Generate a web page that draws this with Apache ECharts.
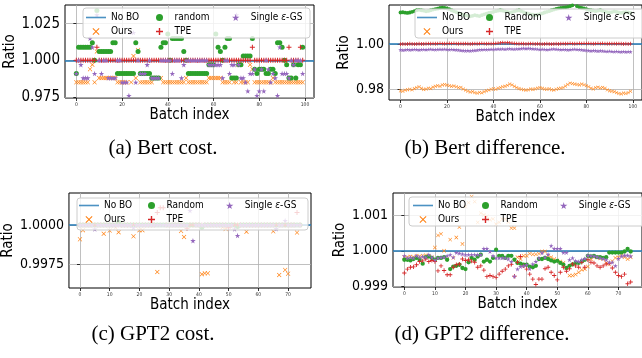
<!DOCTYPE html>
<html>
<head>
<meta charset="utf-8">
<script src="https://cdn.jsdelivr.net/npm/echarts@6/dist/echarts.min.js"></script>
<style>
  html, body { margin: 0; padding: 0; background: #fff; }
  #chart { width: 642px; height: 358px; }
</style>
</head>
<body>
<div id="chart"></div>
<script>
// ---- data ----
var noBoRatio = 1.0;

var xTicksBert = [0, 20, 40, 60, 80, 100];
var xTicksGpt = [0, 10, 20, 30, 40, 50, 60, 70];
var yTicksA = [0.975, 1.0, 1.025];
var yTicksB = [0.98, 1.0];
var yTicksC = [0.9975, 1.0];
var yTicksD = [0.999, 1.0, 1.001];

// (a) Bert cost, batches 0..99
var oursA = [
  0.985,0.985,0.985,0.985,0.985,0.985,0.994,0.997,0.985,1.006,
  0.988,0.988,0.988,0.988,0.988,0.988,0.988,0.988,0.985,0.985,
  0.985,0.985,0.985,0.991,0.985,1.003,0.988,1.007,0.985,0.985,
  0.985,0.985,0.985,0.985,0.988,0.988,0.988,0.988,0.985,0.985,
  0.985,0.985,0.985,0.985,0.985,0.985,0.985,0.985,0.988,0.985,
  0.985,0.985,0.985,0.985,0.985,0.985,0.985,0.985,0.988,0.988,
  0.988,0.988,0.988,0.988,0.985,0.985,0.985,0.985,0.988,0.985,
  0.985,0.997,0.985,0.985,0.985,0.985,0.997,0.994,0.985,0.985,
  0.985,0.985,0.985,0.985,0.985,0.985,0.988,0.985,0.985,0.985,
  0.985,0.985,0.985,0.985,0.985,0.985,0.985,0.985,0.985,0.985
];
var randomA = [
  0.991,1.009,1.009,1.009,1.009,1.009,1.009,1.012,1.000,1.034,
  1.006,1.006,1.006,1.006,1.006,1.006,1.012,1.012,0.991,0.991,
  0.991,0.991,0.991,0.991,0.991,0.991,1.012,1.006,0.991,0.991,
  0.991,0.991,0.991,0.988,0.988,0.988,0.988,1.009,1.012,1.012,
  1.018,1.000,1.015,1.015,1.015,1.015,1.015,1.006,1.000,0.991,
  0.991,0.991,0.991,0.991,0.991,0.991,0.991,0.991,0.997,0.997,
  0.997,1.018,1.009,1.006,1.000,1.009,1.015,1.015,0.988,0.988,
  0.988,0.997,0.997,1.003,1.003,1.003,1.003,1.015,0.994,0.991,
  0.994,0.994,0.994,0.991,0.991,0.994,0.994,0.991,1.012,1.012,
  1.009,1.000,0.997,0.988,0.988,0.997,0.988,0.997,0.997,1.009
];
var tpeA = [
  1.000,1.000,1.000,1.000,1.000,1.000,1.000,1.000,1.000,1.009,
  1.000,1.000,1.000,1.000,1.000,1.000,1.000,1.000,1.000,1.000,
  1.000,1.000,1.000,1.000,1.000,1.000,1.000,1.000,1.000,1.000,
  1.000,1.000,1.000,1.000,1.000,1.000,1.000,1.000,1.000,1.000,
  1.000,1.000,1.000,1.000,1.000,1.000,1.000,1.000,1.000,1.000,
  1.000,1.000,1.000,1.000,1.000,1.000,1.000,1.000,1.000,1.000,
  1.000,1.000,1.000,1.000,1.000,1.000,1.000,1.000,1.000,1.000,
  1.000,1.000,1.000,1.000,1.000,1.000,1.000,1.009,1.000,1.000,
  1.000,1.000,1.000,1.000,1.000,1.000,1.000,1.000,1.000,1.000,
  1.000,1.000,1.000,1.009,1.000,1.000,1.000,1.000,1.009,1.000
];
var singleA = [
  0.991,1.000,0.997,0.988,0.988,0.988,1.015,1.009,0.991,1.031,
  1.000,0.991,1.000,1.000,0.988,0.988,0.988,0.988,1.000,1.000,
  0.985,0.985,0.985,0.976,1.019,1.019,0.985,1.000,0.991,0.991,
  0.991,0.997,1.000,0.988,0.988,0.988,0.988,1.000,1.000,1.000,
  1.000,1.000,0.991,1.000,1.000,1.000,0.988,0.997,1.000,1.000,
  1.000,1.000,1.000,1.000,1.000,1.000,1.000,1.000,0.997,0.997,
  0.997,0.997,0.997,0.997,0.988,1.000,1.000,0.991,0.997,0.997,
  1.031,0.997,0.988,0.988,0.985,0.979,0.991,0.991,0.994,0.976,
  0.979,0.994,0.979,1.000,0.994,0.985,0.991,0.988,0.976,1.009,
  0.991,0.991,0.991,0.988,1.000,0.997,1.000,1.000,1.000,0.991
];

// (b) Bert difference, batches 0..99
var oursB = [
  0.9792,0.9790,0.9795,0.9797,0.9799,0.9796,0.9802,0.9806,0.9810,0.9803,
  0.9798,0.9800,0.9804,0.9802,0.9808,0.9812,0.9815,0.9812,0.9818,0.9820,
  0.9817,0.9815,0.9812,0.9814,0.9810,0.9806,0.9807,0.9800,0.9795,0.9790,
  0.9786,0.9788,0.9784,0.9781,0.9785,0.9783,0.9788,0.9792,0.9795,0.9799,
  0.9801,0.9799,0.9804,0.9806,0.9810,0.9812,0.9816,0.9822,0.9818,0.9812,
  0.9806,0.9802,0.9799,0.9797,0.9795,0.9796,0.9800,0.9798,0.9801,0.9804,
  0.9806,0.9803,0.9800,0.9799,0.9801,0.9797,0.9795,0.9799,0.9802,0.9804,
  0.9806,0.9813,0.9820,0.9826,0.9824,0.9822,0.9820,0.9818,0.9822,0.9819,
  0.9815,0.9810,0.9804,0.9800,0.9806,0.9808,0.9805,0.9807,0.9803,0.9796,
  0.9792,0.9790,0.9788,0.9784,0.9780,0.9778,0.9782,0.9780,0.9784,0.9790
];
var randomB = [
  1.0140,1.0141,1.0139,1.0138,1.0140,1.0143,1.0146,1.0150,1.0152,1.0150,
  1.0148,1.0145,1.0147,1.0150,1.0153,1.0155,1.0157,1.0160,1.0162,1.0160,
  1.0158,1.0155,1.0150,1.0146,1.0142,1.0138,1.0134,1.0130,1.0127,1.0125,
  1.0123,1.0125,1.0128,1.0126,1.0124,1.0128,1.0132,1.0135,1.0138,1.0140,
  1.0143,1.0146,1.0148,1.0150,1.0148,1.0145,1.0143,1.0140,1.0142,1.0145,
  1.0148,1.0150,1.0146,1.0142,1.0138,1.0135,1.0132,1.0130,1.0128,1.0130,
  1.0133,1.0136,1.0140,1.0143,1.0146,1.0150,1.0153,1.0156,1.0158,1.0160,
  1.0162,1.0163,1.0165,1.0168,1.0172,1.0175,1.0168,1.0163,1.0160,1.0158,
  1.0155,1.0152,1.0150,1.0148,1.0146,1.0148,1.0150,1.0147,1.0144,1.0142,
  1.0140,1.0142,1.0145,1.0143,1.0140,1.0138,1.0140,1.0142,1.0140,1.0138
];
var tpeB = [
  0.9999,1.0000,0.9999,1.0000,1.0001,1.0000,0.9999,1.0000,1.0001,1.0000,
  1.0000,1.0001,1.0002,1.0001,1.0002,1.0001,1.0002,1.0003,1.0002,1.0001,
  1.0002,1.0003,1.0002,1.0003,1.0002,1.0001,1.0002,1.0001,1.0002,1.0001,
  1.0000,1.0001,1.0002,1.0001,1.0002,1.0003,1.0002,1.0001,1.0002,1.0001,
  1.0002,1.0003,1.0004,1.0005,1.0006,1.0005,1.0006,1.0005,1.0004,1.0003,
  1.0002,1.0001,1.0002,1.0001,1.0000,1.0001,1.0002,1.0001,1.0000,1.0001,
  1.0000,0.9999,1.0000,1.0001,1.0000,0.9999,1.0000,1.0001,1.0000,1.0001,
  1.0002,1.0001,1.0002,1.0003,1.0002,1.0001,1.0002,1.0003,1.0002,1.0003,
  1.0002,1.0003,1.0002,1.0001,1.0002,1.0003,1.0002,1.0003,1.0002,1.0001,
  1.0002,1.0001,1.0002,1.0001,1.0002,1.0001,1.0000,1.0001,1.0000,1.0001
];
var singleB = [
  0.9974,0.9973,0.9974,0.9975,0.9974,0.9975,0.9976,0.9975,0.9974,0.9975,
  0.9976,0.9975,0.9976,0.9977,0.9976,0.9975,0.9976,0.9977,0.9976,0.9977,
  0.9976,0.9975,0.9976,0.9975,0.9974,0.9973,0.9972,0.9971,0.9970,0.9971,
  0.9970,0.9971,0.9972,0.9973,0.9974,0.9975,0.9976,0.9975,0.9976,0.9977,
  0.9976,0.9977,0.9978,0.9977,0.9978,0.9977,0.9978,0.9979,0.9978,0.9977,
  0.9978,0.9979,0.9980,0.9981,0.9980,0.9981,0.9980,0.9979,0.9978,0.9977,
  0.9976,0.9977,0.9976,0.9975,0.9976,0.9977,0.9978,0.9977,0.9976,0.9975,
  0.9976,0.9975,0.9974,0.9975,0.9976,0.9977,0.9976,0.9975,0.9974,0.9973,
  0.9972,0.9971,0.9970,0.9971,0.9970,0.9969,0.9970,0.9969,0.9968,0.9967,
  0.9968,0.9967,0.9966,0.9967,0.9966,0.9965,0.9966,0.9965,0.9966,0.9965
];

// (c) GPT2 cost, batches 0..74
var oursC = [
  0.99908,0.99966,1.0000,1.0000,1.0000,1.0000,1.0000,1.0000,0.99944,1.0000,
  0.99964,1.0000,0.99983,0.99953,1.0000,1.0000,1.0000,1.0000,0.99927,1.0000,
  0.99966,0.99966,1.0000,1.0000,1.0000,1.0000,0.99699,1.0000,1.0000,1.0000,
  1.0000,1.0000,1.0000,1.0000,0.99962,0.99923,1.0000,1.0000,1.0000,1.0000,
  1.0000,0.99684,0.99690,0.99690,1.0000,1.0000,1.0000,1.0000,0.99985,0.99975,
  0.99990,1.0000,1.0000,1.0000,1.0000,1.0000,0.99957,1.0000,1.0000,1.0000,
  1.0000,1.0000,1.0000,1.0000,1.0000,0.99959,1.0000,0.99679,1.0000,0.99712,
  0.99688,1.0000,1.0000,0.99951,1.0000
];
var randomC = [
  1.0000,1.0000,1.0000,1.0000,1.0000,1.0000,1.0000,1.0000,1.0000,1.0000,
  1.0000,1.0000,1.0000,1.00017,1.0000,1.0000,1.0000,1.0000,1.0000,1.0000,
  1.0000,1.0000,1.0000,1.0000,1.0000,1.0000,1.0000,1.0000,1.0000,1.0000,
  1.0000,1.0000,1.0000,1.0000,1.0000,1.0000,1.0000,1.0000,1.0000,1.0000,
  1.0000,0.99985,1.0000,1.0000,1.0000,1.0000,1.0000,1.0000,1.0000,1.0000,
  1.0000,1.0000,1.0000,0.99990,1.0000,1.0000,1.0000,1.0000,1.0000,1.0000,
  1.0000,1.0000,1.0000,1.0000,1.0000,1.0000,1.0000,1.0000,1.0000,1.0000,
  1.0000,1.0000,1.0000,1.0000,1.0000
];
var tpeC = [
  1.0000,1.0000,1.0000,1.0000,1.0000,1.0000,1.0000,1.0000,1.0000,1.0000,
  1.0000,1.0000,1.0000,1.0000,1.0000,1.0000,1.0000,1.0000,1.0000,1.0000,
  1.0000,1.0000,1.0000,1.0000,1.0000,1.0000,1.0008,1.0011,1.0011,1.0000,
  1.0000,1.0000,1.0000,1.0000,1.0000,1.0000,0.99979,1.0000,1.0000,1.0000,
  1.0000,1.0000,1.0000,1.0000,1.0000,1.0000,1.0000,1.0000,1.0000,1.0000,
  0.99983,1.0000,1.0000,1.0000,1.0000,1.0000,1.0000,1.0000,1.0000,1.0000,
  1.0000,1.0000,1.0000,1.0000,1.0000,1.0000,1.0000,1.0000,1.0000,1.0000,
  1.0000,1.0000,1.0000,1.0008,1.0000
];
var singleC = [
  1.0000,1.0000,1.0000,1.0000,1.0000,0.99974,1.0000,1.0000,1.0000,1.0000,
  1.0000,1.0000,1.0000,1.0000,1.0000,1.0000,1.0000,1.0000,0.99983,1.0000,
  1.0000,1.0000,1.0000,1.0000,1.0000,1.0000,1.0000,1.0000,1.0000,1.0000,
  1.0000,1.0000,1.0000,1.0000,1.0000,1.0000,1.0000,1.00092,0.99899,1.0000,
  1.0000,1.0000,1.0000,1.0000,1.0000,1.0000,1.0000,1.0000,1.0000,1.0000,
  1.0000,1.0000,0.99974,0.99932,1.0000,1.0000,1.0000,1.0000,1.0000,1.0000,
  1.0000,1.0000,1.0000,1.0000,1.0000,1.0000,0.99976,1.0000,1.0000,1.00028,
  1.0000,1.0000,1.0000,1.0000,1.0000
];

// (d) GPT2 difference, batches 0..74
var oursD = [
  0.99982,0.99982,0.99984,0.99982,0.99986,0.99984,0.99986,0.99988,0.99986,0.99982,
  1.00009,1.00043,1.00047,1.00000,0.99977,1.00031,0.99980,1.00037,1.00066,1.00019,
  1.00123,1.00134,1.00151,1.00137,1.00079,1.00105,1.00100,1.00096,1.00086,1.00089,
  1.00074,1.00079,1.00088,1.00088,1.00080,1.00063,1.00063,0.99982,0.99977,0.99986,
  0.99986,0.99992,0.99990,0.99990,0.99992,0.99998,0.99998,0.99986,0.99982,0.99977,
  0.99973,0.99970,0.99966,0.99952,0.99931,0.99931,0.99934,0.99940,0.99947,0.99949,
  0.99956,0.99977,0.99982,0.99982,0.99979,0.99977,0.99966,0.99962,0.99971,0.99980,
  0.99982,0.99986,0.99982,0.99977,0.99982
];
var randomD = [
  0.99975,0.99975,0.99973,0.99977,0.99980,0.99975,0.99964,0.99982,0.99984,0.99980,
  0.99975,0.99980,0.99980,0.99982,0.99975,0.99949,0.99956,0.99958,0.99961,0.99952,
  0.99949,0.99968,0.99980,0.99975,0.99984,0.99989,0.99970,0.99975,0.99970,0.99980,
  1.00003,0.99986,0.99986,0.99980,0.99986,0.99986,0.99975,0.99966,0.99964,0.99961,
  0.99961,0.99956,0.99954,0.99958,0.99977,0.99977,0.99980,0.99977,0.99973,0.99970,
  0.99972,0.99966,0.99961,0.99952,0.99958,0.99962,0.99966,0.99966,0.99970,0.99975,
  0.99986,0.99984,0.99986,0.99982,0.99982,0.99980,0.99982,0.99995,0.99995,0.99995,
  0.99995,0.99995,0.99998,1.00005,0.99998
];
var tpeD = [
  0.99938,0.99949,0.99954,0.99955,0.99961,0.99970,0.99972,0.99977,0.99970,0.99973,
  0.99970,0.99944,0.99958,0.99945,0.99933,0.99933,0.99954,0.99961,0.99963,0.99977,
  0.99973,0.99975,0.99971,0.99968,0.99954,0.99958,0.99946,0.99928,0.99931,0.99928,
  0.99926,0.99935,0.99943,0.99949,0.99958,0.99962,0.99929,0.99968,0.99984,0.99958,
  0.99949,0.99935,0.99921,0.99906,0.99921,0.99921,0.99950,0.99954,0.99940,0.99931,
  0.99919,0.99940,0.99954,0.99943,0.99950,0.99963,0.99958,0.99954,0.99968,0.99954,
  0.99975,0.99968,0.99966,0.99958,0.99954,0.99958,0.99963,0.99965,0.99952,0.99940,
  0.99931,0.99928,0.99935,0.99908,0.99913
];
var singleD = [
  0.99986,0.99980,0.99982,0.99980,0.99986,0.99982,0.99984,0.99982,0.99989,0.99982,
  0.99975,0.99980,0.99982,0.99982,0.99986,0.99989,0.99982,0.99995,0.99993,0.99991,
  0.99989,0.99989,0.99989,0.99989,0.99989,0.99989,1.00006,1.00006,0.99998,0.99986,
  0.99980,0.99980,0.99980,0.99980,0.99977,0.99970,0.99929,0.99949,0.99956,0.99958,
  0.99961,0.99950,0.99963,0.99970,0.99980,0.99994,0.99982,0.99990,1.00014,1.00006,
  1.00006,1.00006,0.99995,0.99995,0.99975,0.99980,0.99972,0.99970,0.99975,0.99978,
  0.99987,0.99986,0.99985,0.99983,0.99980,0.99978,0.99975,0.99968,0.99968,0.99958,
  0.99978,0.99985,0.99987,0.99987,0.99985
];

// ---- styling ----
var FONT = "'DejaVu Sans Condensed', 'Liberation Sans', sans-serif";
var SERIF = "'Liberation Serif', 'DejaVu Serif', serif";
var C = { blue: '#1f77b4', orange: '#ff7f0e', green: '#2ca02c', red: '#d62728', purple: '#9467bd' };
var ICON_LINE = 'path://M0,0H20V1.6H0Z';
var ICON_X = 'path://M1,0L5,4L9,0L10,1L6,5L10,9L9,10L5,6L1,10L0,9L4,5L0,1Z';
var ICON_PLUS = 'path://M4,0H6V4H10V6H6V10H4V6H0V4H4Z';
var ICON_STAR = 'path://M50,0L61,35H98L68,57L79,91L50,70L21,91L32,57L2,35H39Z';

var panels = [
  { grid: { left: 65, top: 5, width: 249, height: 93 }, xr: [-4.95, 103.95], xTicks: xTicksBert,
    yr: [0.9743, 1.0378], yTicks: yTicksA, digits: 3, yFont: 15, yNameGap: 40, ms: 5,
    data: [oursA, randomA, tpeA, singleA], randomName: 'random',
    legTop: 11, cols: [86, 156, 232], frame: [83, 8, 227, 30] },
  { grid: { left: 389, top: 5, width: 262, height: 95 }, xr: [-4.95, 103.95], xTicks: xTicksBert,
    yr: [0.97511, 1.01733], yTicks: yTicksB, digits: 2, yFont: 14, yNameGap: 30, ms: 3.8,
    data: [oursB, randomB, tpeB, singleB], randomName: 'Random',
    legTop: 11, cols: [417, 486, 565], frame: [415, 9, 240, 29] },
  { grid: { left: 68, top: 193, width: 243, height: 95 }, xr: [-3.7, 77.7], xTicks: xTicksGpt,
    yr: [0.99596, 1.00205], yTicks: yTicksC, digits: 4, yFont: 14, yNameGap: 50, ms: 5,
    data: [oursC, randomC, tpeC, singleC], randomName: 'Random',
    legTop: 199, cols: [79, 148, 226], frame: [77, 198, 231, 32] },
  { grid: { left: 393, top: 193, width: 250, height: 94 }, xr: [-3.7, 77.7], xTicks: xTicksGpt,
    yr: [0.99899, 1.00161], yTicks: yTicksD, digits: 3, yFont: 14, yNameGap: 38, ms: 4.3,
    data: [oursD, randomD, tpeD, singleD], randomName: 'Random',
    legTop: 199, cols: [413, 482, 560], frame: [409, 197, 240, 29] }
];

var grids = [], xAxes = [], yAxes = [], series = [], legends = [], graphics = [];

function pts(arr) {
  return arr.map(function (v, k) { return [k, v]; });
}

function scatter(name, arr, symbol, color, size, i) {
  return {
    type: 'scatter', name: name, xAxisIndex: i, yAxisIndex: i,
    data: pts(arr), symbol: symbol, symbolSize: size,
    itemStyle: { color: color, opacity: 1 }, z: 6,
    emphasis: { disabled: true }, animation: false
  };
}

panels.forEach(function (p, i) {
  grids.push(Object.assign({ show: true, borderColor: '#000', borderWidth: 1, backgroundColor: 'transparent' }, p.grid));

  xAxes.push({
    type: 'value', gridIndex: i, min: p.xr[0], max: p.xr[1],
    axisLine: { show: false },
    axisTick: { show: true, length: 3, customValues: p.xTicks, lineStyle: { color: '#000', width: 0.8 } },
    axisLabel: { customValues: p.xTicks, fontSize: 5, color: '#333', margin: 4, fontFamily: FONT },
    splitLine: { show: true, lineStyle: { color: '#b0b0b0', width: 0.8 } },
    name: 'Batch index', nameLocation: 'middle', nameGap: 7,
    nameTextStyle: { fontSize: 15, color: '#000', fontFamily: FONT, verticalAlign: 'top' }
  });

  yAxes.push({
    type: 'value', gridIndex: i, min: p.yr[0], max: p.yr[1],
    axisLine: { show: false },
    axisTick: { show: true, length: 3, customValues: p.yTicks, lineStyle: { color: '#000', width: 0.8 } },
    axisLabel: {
      customValues: p.yTicks, fontSize: p.yFont, color: '#000', margin: 5, fontFamily: FONT,
      formatter: (function (d) { return function (v) { return Number(v).toFixed(d); }; })(p.digits)
    },
    splitLine: { show: true, lineStyle: { color: '#b0b0b0', width: 0.8 } },
    name: 'Ratio', nameLocation: 'middle', nameGap: p.yNameGap, nameRotate: 90,
    nameTextStyle: { fontSize: 15, color: '#000', fontFamily: FONT }
  });

  // baseline "No BO" drawn as a horizontal rule under the points
  series.push({
    type: 'scatter', name: 'No BO', xAxisIndex: i, yAxisIndex: i, data: [],
    itemStyle: { color: C.blue }, z: 1,
    markLine: {
      silent: true, symbol: 'none', animation: false, z: 1, label: { show: false },
      lineStyle: { color: C.blue, width: 1.5, type: 'solid' },
      emphasis: { disabled: true },
      data: [{ yAxis: noBoRatio }]
    }
  });
  series.push(scatter('Ours', p.data[0], ICON_X, C.orange, p.ms * 0.9, i));
  series.push(scatter(p.randomName, p.data[1], 'circle', C.green, p.ms, i));
  series.push(scatter('TPE', p.data[2], ICON_PLUS, C.red, p.ms, i));
  series.push(scatter('Single ε-GS', p.data[3], ICON_STAR, C.purple, p.ms + 0.5, i));

  var legBase = {
    top: p.legTop, orient: 'vertical', padding: 0, itemGap: 1,
    itemWidth: 20, itemHeight: 7, symbolKeepAspect: true, selectedMode: false, z: 20,
    textStyle: {
      fontSize: 10, lineHeight: 13, color: '#000', fontFamily: FONT,
      rich: { e: { fontSize: 10, fontStyle: 'italic', fontFamily: FONT, color: '#000' } }
    },
    formatter: function (name) {
      return name === 'Single ε-GS' ? 'Single {e|ε}-GS' : name;
    }
  };
  legends.push(Object.assign({}, legBase, { left: p.cols[0], data: [{ name: 'No BO', icon: ICON_LINE }, { name: 'Ours', icon: ICON_X }] }));
  legends.push(Object.assign({}, legBase, { left: p.cols[1], data: [{ name: p.randomName, icon: 'circle' }, { name: 'TPE', icon: ICON_PLUS }] }));
  legends.push(Object.assign({}, legBase, { left: p.cols[2], data: [{ name: 'Single ε-GS', icon: ICON_STAR }] }));

  graphics.push({
    type: 'rect', z: 10, silent: true,
    shape: { x: p.frame[0], y: p.frame[1], width: p.frame[2], height: p.frame[3], r: 3 },
    style: { fill: 'rgba(255,255,255,0.8)', stroke: '#cccccc', lineWidth: 1 }
  });
});

var captions = [
  ['(a) Bert cost.', 163, 148],
  ['(b) Bert difference.', 485, 148],
  ['(c) GPT2 cost.', 153, 334],
  ['(d) GPT2 difference.', 482, 334]
];
captions.forEach(function (c) {
  graphics.push({
    type: 'text', z: 10, silent: true,
    style: { text: c[0], x: c[1], y: c[2], align: 'center', verticalAlign: 'middle',
             fontSize: 21, fontFamily: SERIF, fill: '#000' }
  });
});

var chart = echarts.init(document.getElementById('chart'), null, { renderer: 'canvas' });
chart.setOption({
  animation: false,
  backgroundColor: '#fff',
  grid: grids,
  xAxis: xAxes,
  yAxis: yAxes,
  legend: legends,
  graphic: graphics,
  series: series
});
</script>
</body>
</html>
